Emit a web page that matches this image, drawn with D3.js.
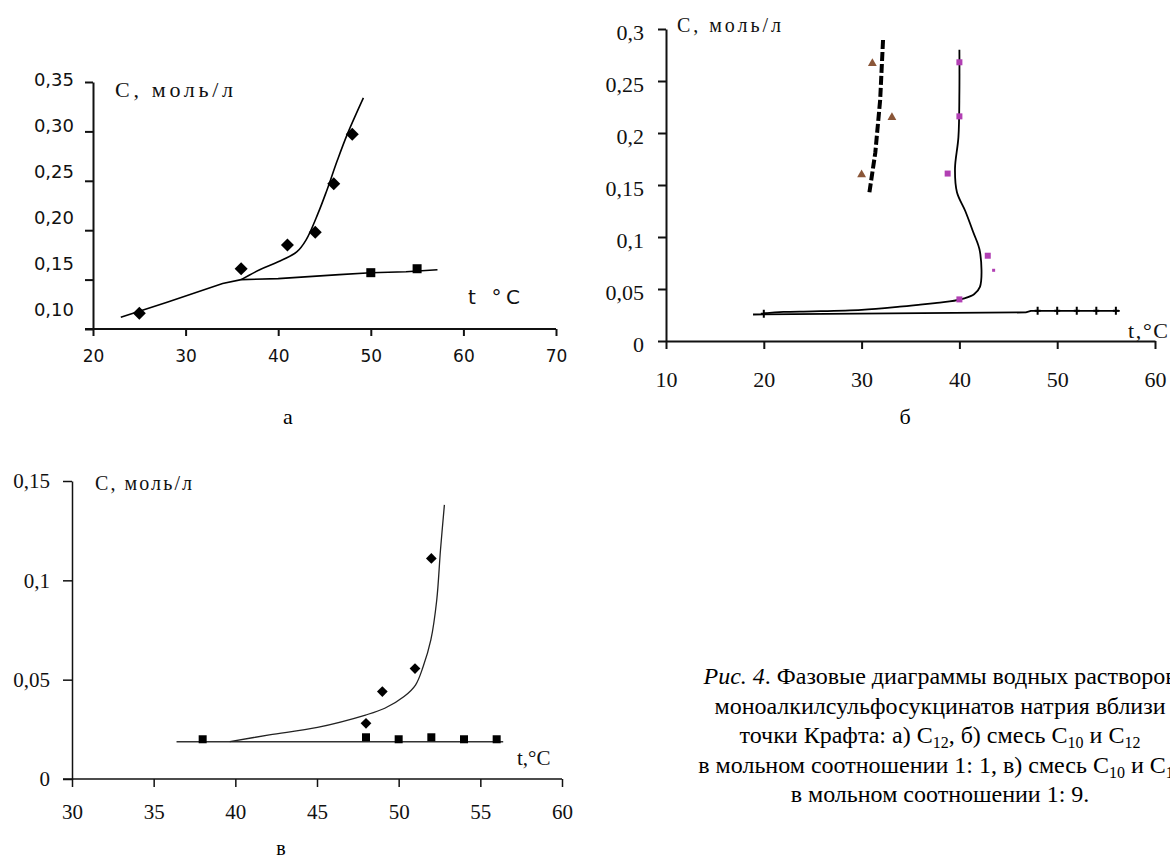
<!doctype html>
<html lang="ru">
<head>
<meta charset="utf-8">
<title>Фазовые диаграммы</title>
<script src="https://d3js.org/d3.v7.min.js"></script>
<style>
    body { margin: 0; background: #fff; }
    svg { display: block; background: #fff; }
</style>
</head>
<body>
<svg width="1170" height="862"></svg>
<script>
    // ---------- панель а: C12 ----------
    var tA_dia = [25, 36, 41, 44, 46, 48];
    var cA_dia = [0.116, 0.161, 0.185, 0.198, 0.247, 0.297];
    var tA_sq = [50, 55];
    var cA_sq = [0.157, 0.161];
    var tA_low = [23.0, 28.0, 34.0, 36.0, 40.0, 46.6, 50.0, 53.8, 57.2];
    var cA_low = [0.112, 0.127, 0.146, 0.150, 0.151, 0.155, 0.157, 0.158, 0.160];
    var tA_up = [36.0, 38.0, 40.0, 42.0, 43.0, 44.3, 45.2, 46.4, 47.5, 49.2];
    var cA_up = [0.150, 0.160, 0.168, 0.178, 0.190, 0.217, 0.239, 0.271, 0.298, 0.334];
    var xTicksA = [20, 30, 40, 50, 60, 70];
    var xLabelsA = ["20", "30", "40", "50", "60", "70"];
    var yTicksA = [0.10, 0.15, 0.20, 0.25, 0.30, 0.35];
    var yLabelsA = ["0,10", "0,15", "0,20", "0,25", "0,30", "0,35"];

    // ---------- панель б: C10 + C12, 1:1 ----------
    var tB_tri = [30.0, 31.1, 33.1];
    var cB_tri = [0.160, 0.267, 0.215];
    var tB_sq = [40.0, 40.0, 38.8, 42.9, 40.0];
    var cB_sq = [0.268, 0.216, 0.161, 0.082, 0.040];
    var tB_dot = [43.5];
    var cB_dot = [0.068];
    var tB_plus = [20, 48, 50, 52, 54, 56];
    var cB_plus = [0.0262, 0.029, 0.029, 0.029, 0.029, 0.029];
    var tB_dash = [30.8, 31.4, 31.9, 32.2];
    var cB_dash = [0.143, 0.181, 0.232, 0.291];
    var tB_solid = [40.0, 40.0, 39.9, 39.55, 39.75, 40.6, 41.4, 42.1, 42.1, 41.5, 40.5, 39.0, 37.5, 36.0, 33.9, 30.0, 25.0, 22.0, 20.0];
    var cB_solid = [0.280, 0.240, 0.196, 0.166, 0.143, 0.125, 0.105, 0.086, 0.052, 0.045, 0.041, 0.038, 0.0365, 0.035, 0.033, 0.030, 0.0285, 0.028, 0.0265];
    var tB_flat = [18.9, 46.8, 47.3, 56.4];
    var cB_flat = [0.0255, 0.0275, 0.029, 0.029];
    var xTicksB = [10, 20, 30, 40, 50, 60];
    var xLabelsB = ["10", "20", "30", "40", "50", "60"];
    var yTicksB = [0, 0.05, 0.1, 0.15, 0.2, 0.25, 0.3];
    var yLabelsB = ["0", "0,05", "0,1", "0,15", "0,2", "0,25", "0,3"];

    // ---------- панель в: C10 + C12, 1:9 ----------
    var tV_dia = [48, 49, 51, 52];
    var cV_dia = [0.028, 0.044, 0.0556, 0.111];
    var tV_sq = [38, 48, 50, 52, 54, 56];
    var cV_sq = [0.020, 0.021, 0.020, 0.021, 0.020, 0.020];
    var tV_flat = [36.4, 56.4];
    var cV_flat = [0.0188, 0.0188];
    var tV_curve = [39.66, 42.08, 45.03, 47.97, 49.15, 50.33, 51.03, 51.5, 51.97, 52.33, 52.56, 52.8];
    var cV_curve = [0.0188, 0.0222, 0.026, 0.0322, 0.0356, 0.0415, 0.0473, 0.0566, 0.070, 0.090, 0.1153, 0.138];
    var xTicksV = [30, 35, 40, 45, 50, 55, 60];
    var xLabelsV = ["30", "35", "40", "45", "50", "55", "60"];
    var yTicksV = [0, 0.05, 0.1, 0.15];
    var yLabelsV = ["0", "0,05", "0,1", "0,15"];

    var captionLines = [
        [["Рис. 4", "i"], [". Фазовые диаграммы водных растворов", ""]],
        [["моноалкилсульфосукцинатов натрия вблизи", ""]],
        [["точки Крафта: а) C", ""], ["12", "s"], [", б) смесь C", ""], ["10", "s"], [" и C", ""], ["12", "s"]],
        [["в мольном соотношении 1: 1, в) смесь C", ""], ["10", "s"], [" и C", ""], ["12", "s"]],
        [["в мольном соотношении 1: 9.", ""]]
    ];

    var svg = d3.select("svg");
    var SANS = "'DejaVu Sans', Verdana, sans-serif";
    var SERIF = "'Liberation Serif', 'Times New Roman', serif";

    function zip(xs, ys) {
        return xs.map(function (d, i) { return [d, ys[i]]; });
    }

    function styleAxis(g, font, size, width) {
        g.attr("font-family", font).attr("font-size", size);
        g.selectAll("path, line").attr("stroke", "#111").attr("stroke-width", width);
        g.selectAll("text").attr("fill", "#111");
    }

    function diamonds(g, pts, x, y, r) {
        g.selectAll(null).data(pts).enter().append("rect")
            .attr("x", -r).attr("y", -r).attr("width", 2 * r).attr("height", 2 * r)
            .attr("fill", "#000")
            .attr("transform", function (d) { return "translate(" + x(d[0]) + "," + y(d[1]) + ") rotate(45)"; });
    }

    function squares(g, pts, x, y, s, color) {
        g.selectAll(null).data(pts).enter().append("rect")
            .attr("x", function (d) { return x(d[0]) - s / 2; })
            .attr("y", function (d) { return y(d[1]) - s / 2; })
            .attr("width", s).attr("height", s)
            .attr("fill", color);
    }

    function curve(g, pts, x, y, width, type) {
        return g.append("path")
            .datum(pts)
            .attr("fill", "none")
            .attr("stroke", "#000")
            .attr("stroke-width", width)
            .attr("d", d3.line()
                .x(function (d) { return x(d[0]); })
                .y(function (d) { return y(d[1]); })
                .curve(type));
    }

    // ================= а =================
    var xA = d3.scaleLinear().domain([20, 70]).range([93, 556]);
    var yA = d3.scaleLinear().domain([0.10, 0.35]).range([329, 82]);
    // подписи оси у в оригинале смещены вверх относительно рисок
    var yA_lab = d3.scaleLinear().domain([0.10, 0.35]).range([310, 80]);
    var gA = svg.append("g");

    gA.append("g").attr("transform", "translate(0,329)")
        .call(d3.axisBottom(xA).tickValues(xTicksA).tickSize(7).tickSizeOuter(0).tickPadding(14)
            .tickFormat(function (d, i) { return xLabelsA[i]; }))
        .call(styleAxis, SANS, 17, 2)
        .call(function (g) { g.select(".domain").attr("d", "M85,0H556"); });

    gA.append("g").attr("transform", "translate(93,0)")
        .call(d3.axisLeft(yA).tickValues(yTicksA).tickSize(8).tickSizeOuter(0).tickFormat(""))
        .call(styleAxis, SANS, 18, 2);

    gA.selectAll(".ylabA").data(yTicksA).enter().append("text")
        .attr("class", "ylabA")
        .attr("x", 74)
        .attr("y", function (d) { return yA_lab(d); })
        .attr("dy", "0.36em")
        .attr("text-anchor", "end")
        .attr("font-family", SANS).attr("font-size", 18).attr("fill", "#111")
        .text(function (d, i) { return yLabelsA[i]; });

    curve(gA, zip(tA_low, cA_low), xA, yA, 1.6, d3.curveLinear);
    curve(gA, zip(tA_up, cA_up), xA, yA, 1.6, d3.curveCatmullRom);
    diamonds(gA, zip(tA_dia, cA_dia), xA, yA, 4.6);
    squares(gA, zip(tA_sq, cA_sq), xA, yA, 9, "#000");

    gA.append("text").attr("x", 115).attr("y", 97)
        .attr("font-family", SERIF).attr("font-size", 22).attr("fill", "#111")
        .attr("textLength", 118).attr("lengthAdjust", "spacing")
        .text("C, моль/л");
    gA.append("text").attr("x", 468).attr("y", 304)
        .attr("font-family", SANS).attr("font-size", 20).attr("fill", "#111")
        .attr("textLength", 52).attr("lengthAdjust", "spacing")
        .text("t °C");
    gA.append("text").attr("x", 288).attr("y", 424).attr("text-anchor", "middle")
        .attr("font-family", SERIF).attr("font-size", 22).text("а");

    // ================= б =================
    var xB = d3.scaleLinear().domain([10, 60]).range([666, 1155]);
    var yB = d3.scaleLinear().domain([0, 0.3]).range([341, 29]);
    var gB = svg.append("g");

    gB.append("g").attr("transform", "translate(0,341)")
        .call(d3.axisBottom(xB).tickValues(xTicksB).tickSize(8).tickSizeOuter(0).tickPadding(22)
            .tickFormat(function (d, i) { return xLabelsB[i]; }))
        .call(styleAxis, SERIF, 22, 2);

    gB.append("g").attr("transform", "translate(666,0)")
        .call(d3.axisLeft(yB).tickValues(yTicksB).tickSize(8).tickSizeOuter(0).tickPadding(14)
            .tickFormat(function (d, i) { return yLabelsB[i]; }))
        .call(styleAxis, SERIF, 22, 2)
        .call(function (g) { g.selectAll("text").attr("dy", "0.48em"); });

    curve(gB, zip(tB_flat, cB_flat), xB, yB, 1.8, d3.curveLinear);
    curve(gB, zip(tB_solid, cB_solid), xB, yB, 1.8, d3.curveCatmullRom);
    curve(gB, zip(tB_dash, cB_dash), xB, yB, 4, d3.curveLinear)
        .attr("stroke-dasharray", "9,3");

    gB.selectAll(null).data(zip(tB_plus, cB_plus)).enter().append("path")
        .attr("transform", function (d) { return "translate(" + xB(d[0]) + "," + yB(d[1]) + ")"; })
        .attr("d", "M-3,0H3M0,-4V4")
        .attr("stroke", "#000").attr("stroke-width", 2);

    gB.selectAll(null).data(zip(tB_tri, cB_tri)).enter().append("path")
        .attr("transform", function (d) { return "translate(" + xB(d[0]) + "," + yB(d[1]) + ")"; })
        .attr("d", d3.symbol().type(d3.symbolTriangle).size(34))
        .attr("fill", "#8a5638");

    squares(gB, zip(tB_sq, cB_sq), xB, yB, 6, "#b13fb3");
    squares(gB, zip(tB_dot, cB_dot), xB, yB, 3, "#b13fb3");

    gB.append("text").attr("x", 677).attr("y", 32)
        .attr("font-family", SERIF).attr("font-size", 20).attr("fill", "#111")
        .attr("textLength", 104).attr("lengthAdjust", "spacing")
        .text("C, моль/л");
    gB.append("text").attr("x", 1128).attr("y", 338)
        .attr("font-family", SERIF).attr("font-size", 22).attr("fill", "#111")
        .attr("textLength", 40).attr("lengthAdjust", "spacing")
        .text("t,°C");
    gB.append("text").attr("x", 905).attr("y", 424).attr("text-anchor", "middle")
        .attr("font-family", SERIF).attr("font-size", 22).text("б");

    // ================= в =================
    var xV = d3.scaleLinear().domain([30, 60]).range([72, 562]);
    var yV = d3.scaleLinear().domain([0, 0.15]).range([779, 481]);
    var gV = svg.append("g");

    gV.append("g").attr("transform", "translate(0,779)")
        .call(d3.axisBottom(xV).tickValues(xTicksV).tickSize(8).tickSizeOuter(0).tickPadding(17)
            .tickFormat(function (d, i) { return xLabelsV[i]; }))
        .call(styleAxis, SERIF, 21, 1.5)
        .call(function (g) { g.select(".domain").attr("d", "M63,0H562"); });

    gV.append("g").attr("transform", "translate(72,0)")
        .call(d3.axisLeft(yV).tickValues(yTicksV).tickSize(9).tickSizeOuter(0).tickPadding(13)
            .tickFormat(function (d, i) { return yLabelsV[i]; }))
        .call(styleAxis, SERIF, 21, 1.5);

    curve(gV, zip(tV_flat, cV_flat), xV, yV, 1.5, d3.curveLinear).attr("stroke", "#333");
    curve(gV, zip(tV_curve, cV_curve), xV, yV, 1.3, d3.curveCatmullRom).attr("stroke", "#222");
    diamonds(gV, zip(tV_dia, cV_dia), xV, yV, 3.8);
    squares(gV, zip(tV_sq, cV_sq), xV, yV, 8, "#000");

    gV.append("text").attr("x", 95).attr("y", 490)
        .attr("font-family", SERIF).attr("font-size", 20).attr("fill", "#111")
        .attr("textLength", 97).attr("lengthAdjust", "spacing")
        .text("C, моль/л");
    gV.append("text").attr("x", 517).attr("y", 765)
        .attr("font-family", SERIF).attr("font-size", 21).attr("fill", "#111")
        .text("t,°C");
    gV.append("text").attr("x", 281).attr("y", 855).attr("text-anchor", "middle")
        .attr("font-family", SERIF).attr("font-size", 20).text("в");

    // ================= подпись =================
    var cap = svg.append("g")
        .attr("font-family", SERIF).attr("font-size", 24).attr("fill", "#000");

    captionLines.forEach(function (line, li) {
        var t = cap.append("text")
            .attr("x", 940)
            .attr("y", 684 + li * 29.5)
            .attr("text-anchor", "middle");
        line.forEach(function (part) {
            var s = t.append("tspan").text(part[0]);
            if (part[1] === "i") s.attr("font-style", "italic");
            if (part[1] === "s") {
                s.attr("font-size", 16).attr("dy", 5);
            }
        });
        // вернуть базовую линию после нижнего индекса
        t.selectAll("tspan").each(function (d, i) {
            if (i > 0 && line[i - 1][1] === "s" && line[i][1] !== "s") {
                d3.select(this).attr("dy", -5);
            }
        });
    });
</script>
</body>
</html>
